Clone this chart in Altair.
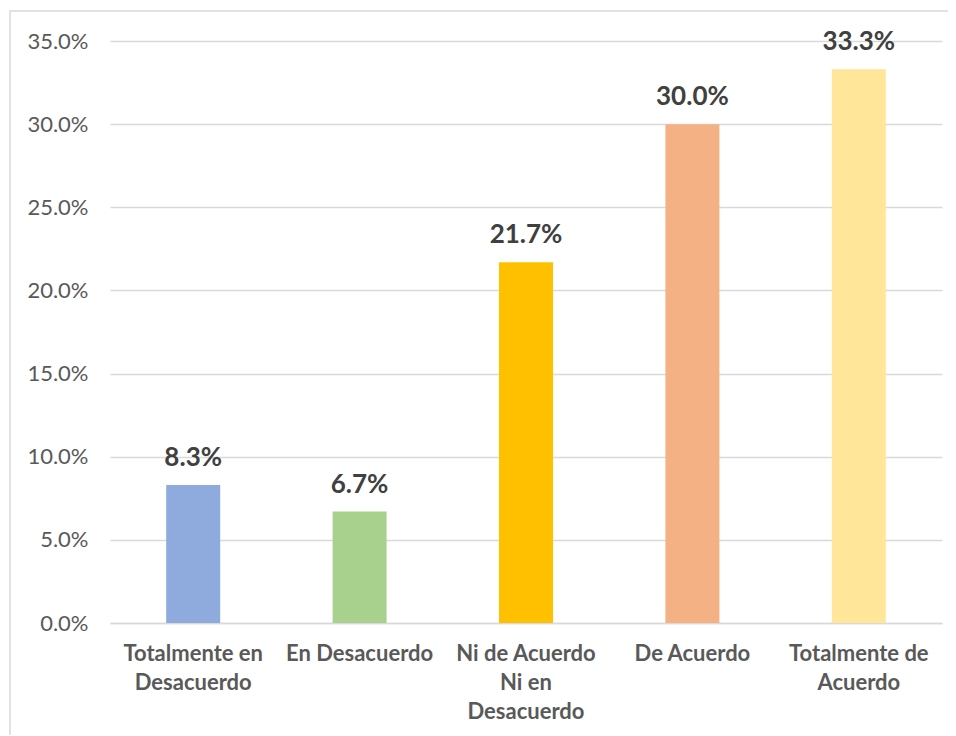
import altair as alt
import pandas as pd

categories = ["Totalmente en|Desacuerdo", "En Desacuerdo", "Ni de Acuerdo|Ni en|Desacuerdo",
              "De Acuerdo", "Totalmente de|Acuerdo"]
values = [0.083, 0.067, 0.217, 0.300, 0.333]
colors = ["#8FAADC", "#A9D18E", "#FFC000", "#F4B183", "#FFE699"]
y_ticks = [0, 0.05, 0.10, 0.15, 0.20, 0.25, 0.30, 0.35]

df = pd.DataFrame({"cat": categories, "val": values, "color": colors})

FONT = "Lato"

x = alt.X("cat:N", sort=None, title=None,
          scale=alt.Scale(paddingInner=0, paddingOuter=0),
          axis=alt.Axis(labelExpr="split(datum.label, '|')", labelAngle=0,
                        labelFont=FONT, labelFontSize=22, labelFontWeight="bold",
                        labelColor="#595959", labelPadding=20, labelLineHeight=29,
                        ticks=False, domainColor="#d9d9d9", domainWidth=1.5,
                        grid=False, labelLimit=200))
y = alt.Y("val:Q", title=None,
          scale=alt.Scale(domain=[0, 0.35], nice=False),
          axis=alt.Axis(values=y_ticks, format=".1%", labelFont=FONT, labelFontSize=22,
                        labelColor="#595959", labelPadding=22, ticks=False, domain=False,
                        gridColor="#d9d9d9", gridWidth=1.3))

base = alt.Chart(df)

bars = base.mark_bar(size=54).encode(
    x=x, y=y,
    color=alt.Color("color:N", scale=None, legend=None),
)

labels = base.mark_text(baseline="alphabetic", dy=-19, font=FONT, fontSize=26,
                        fontWeight="bold", color="#404040").encode(
    x=alt.X("cat:N", sort=None),
    y=alt.Y("val:Q"),
    text=alt.Text("val:Q", format=".1%"),
)

frame = alt.Chart(pd.DataFrame({"a": [0]})).mark_rect(
    fill=None, stroke="#d9d9d9", strokeWidth=1.5).encode(
    x=alt.value(-100), x2=alt.value(900), y=alt.value(-30), y2=alt.value(760))

chart = alt.layer(frame, bars, labels).properties(
    width=832, height=582,
    autosize=alt.AutoSizeParams(type="none"),
    padding={"left": 102, "top": 33, "right": 6, "bottom": 112},
).configure(background="white").configure_view(strokeWidth=0, stroke="transparent")

chart.save("out.html", embed_options={"renderer": "svg", "actions": False})
